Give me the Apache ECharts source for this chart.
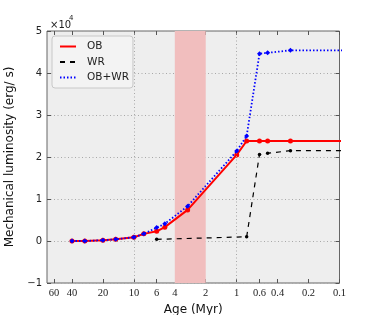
<!DOCTYPE html>
<html><head><meta charset="utf-8">
<script src="https://cdn.jsdelivr.net/npm/echarts@6/dist/echarts.min.js"></script>
<style>html,body{margin:0;padding:0;background:#fff}#c{width:378px;height:315px}</style>
</head><body><div id="c"></div>
<script>
// Tick labels
const xTicks = [60, 40, 20, 10, 6, 4, 2, 1, 0.6, 0.4, 0.2, 0.1];
const majorX = [10, 1];
// Shaded age band (Myr)
const band = [4, 2];
// Series: age (Myr) and mechanical luminosity (x 1e4 erg/s)
const obAge  = [40, 30, 20, 15, 10, 8, 6, 5, 3, 1, 0.8, 0.6, 0.5, 0.3, 0.05];
const obVal  = [0, 0, 0.02, 0.04, 0.09, 0.17, 0.23, 0.33, 0.74, 2.05, 2.38, 2.38, 2.38, 2.38, 2.38];
const wrAge  = [6, 0.8, 0.6, 0.5, 0.3, 0.05];
const wrVal  = [0.04, 0.10, 2.06, 2.09, 2.15, 2.15];
const sumAge = [40, 30, 20, 15, 10, 8, 6, 5, 3, 1, 0.8, 0.6, 0.5, 0.3, 0.05];
const sumVal = [0, 0, 0.02, 0.04, 0.09, 0.17, 0.32, 0.41, 0.83, 2.14, 2.50, 4.46, 4.48, 4.54, 4.54];

const zip = (a, b) => a.map((v, i) => [v, b[i]]);
const fmtX = v => String(+(+v).toPrecision(6));
const fmtY = v => v < 0 ? '\u2212' + (-v) : String(v);
const gridLine = {color: '#a8a8a8', type: [1, 2.5], width: 1};

const xBase = {
  type: 'log', logBase: 10, min: 0.1, max: 70, inverse: true,
  axisLine: {show: false, onZero: false}, splitLine: {show: false}
};
const chart = echarts.init(document.getElementById('c'), null, {renderer: 'canvas'});
chart.setOption({
  animation: false,
  grid: {left: 47, right: 38.5, top: 31, bottom: 32, show: true, containLabel: false,
         outerBoundsMode: 'none',
         backgroundColor: '#eeeeee', borderColor: '#666666', borderWidth: 1},
  legend: {
    left: 52, top: 36, orient: 'vertical',
    itemWidth: 16, itemHeight: 11, itemGap: 4.5,
    padding: [5, 4, 5, 7],
    backgroundColor: '#f3f3f3', borderColor: '#c8c8c8', borderWidth: 1, borderRadius: 3,
    textStyle: {fontSize: 10.5, fontFamily: 'DejaVu Sans', color: '#222', padding: [0, 0, 0, 6]},
    itemStyle: {opacity: 0},
    data: ['OB', 'WR', 'OB+WR']
  },
  graphic: [
    {type: 'text', left: 50, top: 20, style: {text: '\u00d710', fontSize: 10, fontFamily: 'DejaVu Sans', fill: '#222'}},
    {type: 'text', left: 69, top: 15, style: {text: '4', fontSize: 7, fontFamily: 'DejaVu Sans', fill: '#222'}}
  ],
  xAxis: [
    Object.assign({}, xBase, {
      position: 'bottom',
      axisTick: {show: true, inside: true, length: 4, customValues: xTicks, lineStyle: {color: '#555'}},
      axisLabel: {show: true, customValues: xTicks, formatter: fmtX, margin: 5,
                  fontFamily: 'Liberation Serif', fontSize: 10.5, color: '#222'},
      name: 'Age (Myr)', nameLocation: 'middle', nameGap: 18,
      nameTextStyle: {fontSize: 12, fontFamily: 'DejaVu Sans', color: '#111'}
    }),
    Object.assign({}, xBase, {
      position: 'top',
      axisTick: {show: true, inside: true, length: 4, customValues: xTicks, lineStyle: {color: '#555'}},
      axisLabel: {show: false}
    })
  ],
  yAxis: [
    {
      type: 'value', min: -1, max: 5, interval: 1, position: 'left',
      axisLine: {show: false, onZero: false},
      axisTick: {show: true, inside: true, length: 4, lineStyle: {color: '#555'}},
      axisLabel: {formatter: fmtY, fontSize: 10, fontFamily: 'DejaVu Sans', color: '#222', margin: 5},
      splitLine: {show: true, lineStyle: gridLine},
      name: 'Mechanical luminosity (erg/ s)', nameLocation: 'middle', nameGap: 26, nameRotate: 90,
      nameTextStyle: {fontSize: 12, fontFamily: 'DejaVu Sans', color: '#111'}
    },
    {
      type: 'value', min: -1, max: 5, interval: 1, position: 'right',
      axisLine: {show: false, onZero: false},
      axisTick: {show: true, inside: true, length: 4, lineStyle: {color: '#555'}},
      axisLabel: {show: false}, splitLine: {show: false}
    }
  ],
  series: [
    {
      type: 'line', name: '_bg', data: [], z: 1, silent: true,
      markArea: {silent: true, itemStyle: {color: 'rgba(241,190,190,1)'},
                 data: [[{xAxis: band[0]}, {xAxis: band[1]}]]},
      markLine: {silent: true, symbol: 'none', label: {show: false},
                 lineStyle: gridLine,
                 emphasis: {disabled: true},
                 data: majorX.map(v => ({xAxis: v}))}
    },
    {
      type: 'line', name: 'OB', data: zip(obAge, obVal), z: 3,
      symbol: 'circle', symbolSize: 5, showAllSymbol: true,
      lineStyle: {color: '#ff0000', width: 2}, itemStyle: {color: '#ff0000'}
    },
    {
      type: 'line', name: 'WR', data: zip(wrAge, wrVal), z: 4,
      symbol: 'circle', symbolSize: 3.5, showAllSymbol: true,
      lineStyle: {color: '#000000', width: 1.2, type: [5, 5]}, itemStyle: {color: '#000000'}
    },
    {
      type: 'line', name: 'OB+WR', data: zip(sumAge, sumVal), z: 5,
      symbol: 'diamond', symbolSize: 5, showAllSymbol: true,
      lineStyle: {color: '#0000ff', width: 1.8, type: [1.5, 2]}, itemStyle: {color: '#0000ff'}
    }
  ]
});
</script></body></html>
